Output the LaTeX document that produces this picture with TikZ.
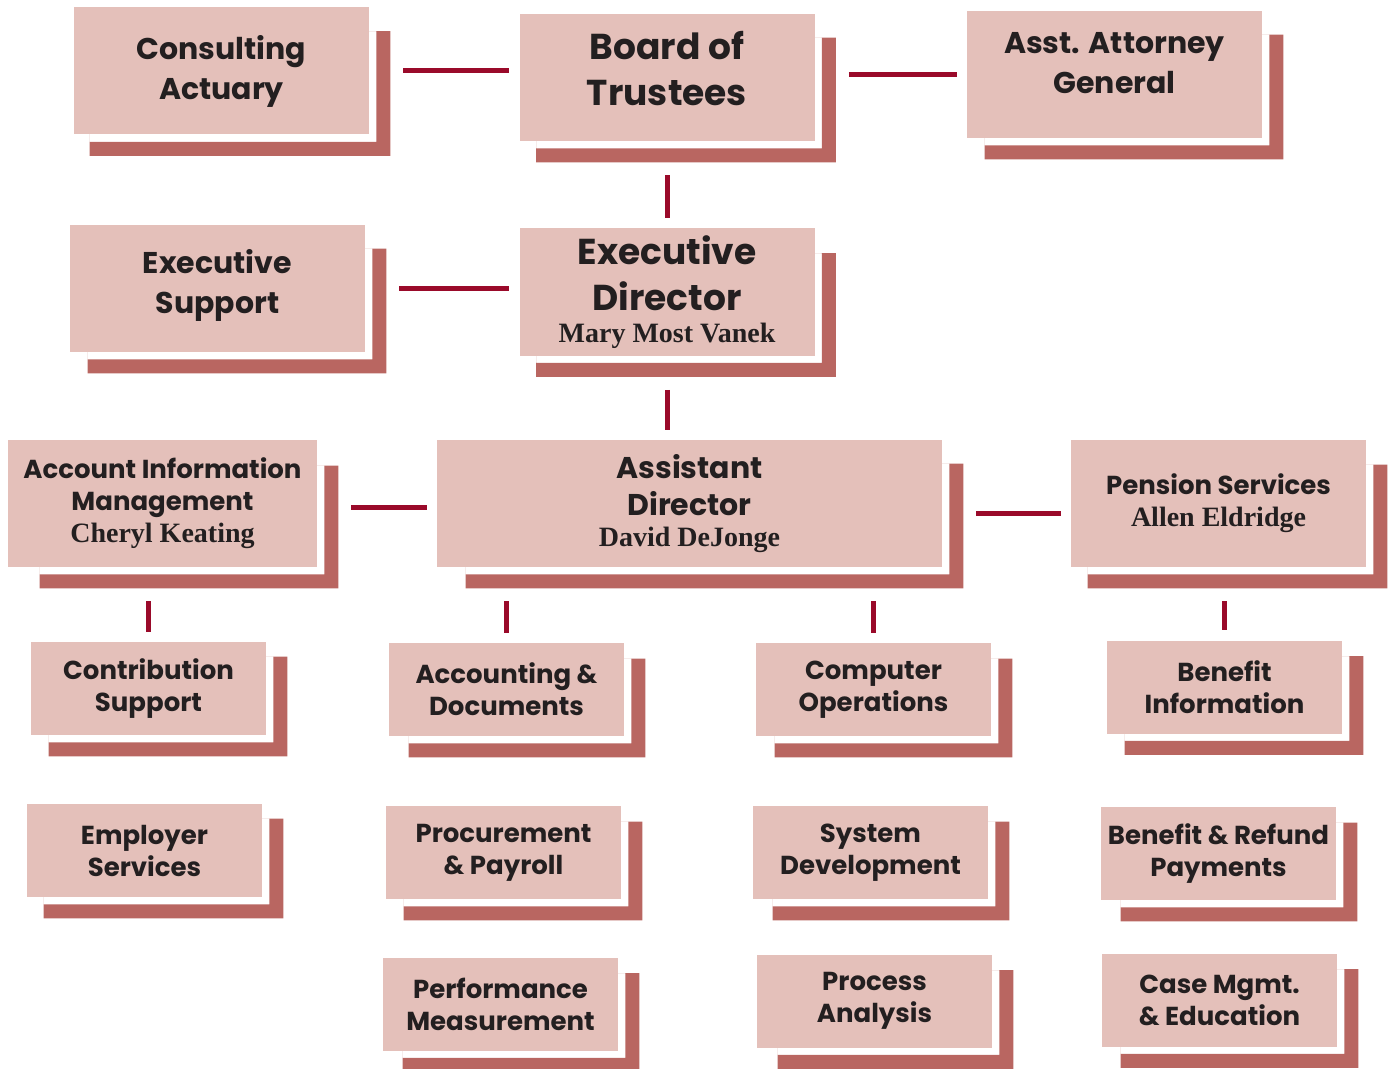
\documentclass[tikz,border=0pt]{standalone}
\usepackage{fontspec}
\setmainfont{Poppins}
\newfontfamily\namefont{Liberation Serif}
\usepackage{tikz}
\usetikzlibrary{backgrounds}
\usepackage{xcolor}
\definecolor{unitpink}{RGB}{228,192,186}
\definecolor{unitshade}{RGB}{185,102,97}
\definecolor{linkred}{RGB}{154,10,42}
\definecolor{inkgrey}{RGB}{35,31,32}
\tikzstyle{unit} = [fill=unitpink, text=inkgrey, align=center, inner sep=0pt]
\tikzstyle{topbox} = [unit, minimum width=147.5pt, minimum height=63.5pt, font=\bfseries\fontsize{18}{23}\selectfont]
\tikzstyle{headbox} = [unit, minimum width=147.5pt, minimum height=63.5pt, font=\bfseries\fontsize{15}{20}\selectfont]
\tikzstyle{subbox} = [unit, minimum width=117.5pt, minimum height=46.5pt, font=\bfseries\fontsize{13}{16}\selectfont]
\tikzstyle{link} = [draw=linkred, line width=2.5pt, shorten <=17pt, shorten >=5pt]
\newcommand{\staff}[1]{{\namefont\fontsize{14}{16}\selectfont #1}}
% L-shaped shadow: node, left offset, top offset (px)
\newcommand{\unitshadow}[3]{%
  \fill[unitshade, even odd rule]
    ([shift={(#2,#3)}]#1.north west) rectangle ([shift={(21,21)}]#1.south east)
    ([shift={(#2,#3)}]#1.north west) rectangle ([shift={(7,7)}]#1.south east);}

\begin{document}
\begin{tikzpicture}[x=0.5pt, y=-0.5pt]
\useasboundingbox (0,0) rectangle (1390,1069);

% Board level
\node[headbox, text depth=4pt] (ca) at (221.5,71) {Consulting\\Actuary};
\node[topbox, text depth=9pt] (bot) at (667,77.5) {Board of\\Trustees};
\node[headbox, text depth=12pt] (aag) at (1114.5,74.5) {Asst. Attorney\\General};

% Director level
\node[headbox, text depth=7pt] (es) at (217.5,288.5) {Executive\\Support};
\node[topbox] (ed) at (667,292) {Executive\\Director\\[-7pt]\staff{Mary Most Vanek}};

% Divisions
\node[subbox, minimum width=154.5pt, minimum height=63.5pt] (aim) at (162.5,503.5)
  {Account Information\\Management\\\staff{Cheryl Keating}};
\node[topbox, minimum width=252.5pt, font=\bfseries\fontsize{15}{18.5}\selectfont] (ad) at (689.5,503.5)
  {Assistant\\Director\\[-3pt]\staff{David DeJonge}};
\node[subbox, minimum width=147.5pt, minimum height=63.5pt] (ps) at (1218.5,503.5)
  {Pension Services\\\staff{Allen Eldridge}};

% Sections
\node[subbox] (cs) at (148.5,688.5) {Contribution\\Support};
\node[subbox] (acd) at (506.5,689.5) {Accounting \&\\Documents};
\node[subbox] (co) at (873.5,689.5) {Computer\\Operations};
\node[subbox] (bi) at (1224.5,687) {Benefit\\Information};

\node[subbox] (ems) at (144.5,850.5) {Employer\\Services};
\node[subbox] (pp) at (503.5,852.5) {Procurement\\\& Payroll};
\node[subbox] (sd) at (870.5,852.5) {System\\Development};
\node[subbox] (brp) at (1218.5,853.5) {Benefit \& Refund\\Payments};

\node[subbox] (pm) at (500.5,1004) {Performance\\Measurement};
\node[subbox] (pa) at (874.5,1001) {Process\\Analysis};
\node[subbox] (cme) at (1219.5,1000) {Case Mgmt.\\\& Education};

% Shadows
\begin{scope}[on background layer]
\unitshadow{ca}{16}{24}
\unitshadow{bot}{17}{24}
\unitshadow{aag}{18}{24}
\unitshadow{es}{18}{24}
\unitshadow{ed}{17}{25}
\unitshadow{aim}{32}{26}
\unitshadow{ad}{29}{24}
\unitshadow{ps}{17}{25}
\unitshadow{cs}{18}{15}
\unitshadow{acd}{20}{16}
\unitshadow{co}{19}{16}
\unitshadow{bi}{18}{16}
\unitshadow{ems}{17}{15}
\unitshadow{pp}{18}{16}
\unitshadow{sd}{20}{16}
\unitshadow{brp}{20}{16}
\unitshadow{pm}{20}{16}
\unitshadow{pa}{21}{16}
\unitshadow{cme}{19}{16}
\end{scope}

% Connectors
\draw[link] (ca.east) -- (ca.east -| bot.west);
\draw[link] (bot.east |- aag.west) -- (aag.west);
\draw[link] (bot.south) -- (ed.north);
\draw[link] (es.east) -- (es.east -| ed.west);
\draw[link] (ed.south) -- (ed.south |- ad.north);
\draw[link] ([yshift=-2pt]aim.east) -- ([yshift=-2pt]aim.east -| ad.west);
\draw[link] ([yshift=-5pt]ad.east) -- ([yshift=-5pt]ad.east -| ps.west);
\draw[link] (aim.south -| cs.north) -- (cs.north);
\draw[link] (ad.south -| acd.north) -- (acd.north);
\draw[link] (ad.south -| co.north) -- (co.north);
\draw[link] (ps.south -| bi.north) -- (bi.north);
\end{tikzpicture}
\end{document}
